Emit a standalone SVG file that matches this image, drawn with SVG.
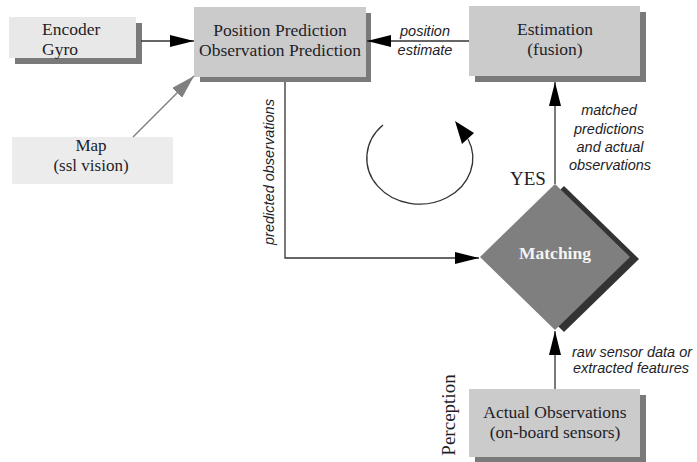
<svg xmlns="http://www.w3.org/2000/svg" width="697" height="462" viewBox="0 0 697 462">
<style>
.serif{font-family:"Liberation Serif","Times New Roman",serif;font-size:17.5px;fill:#1e1e28}
.ital{font-family:"Liberation Sans",Arial,sans-serif;font-size:14.5px;font-style:italic;fill:#1e1e28}
.shadow{fill:#7a7a7a}
.box{fill:#cbcbcb}
.lbox{fill:#e8e8e8}
.conn{stroke:#333;stroke-width:1.3;fill:none}
</style>
<defs>
<marker id="ah" markerWidth="24" markerHeight="12" refX="24" refY="6" orient="auto" markerUnits="userSpaceOnUse">
<path d="M0,0 L24,6 L0,12 Z" fill="#000"/>
</marker>
<marker id="ahg" markerWidth="24" markerHeight="14" refX="24" refY="7" orient="auto" markerUnits="userSpaceOnUse">
<path d="M0,0 L24,7 L0,14 Z" fill="#808080"/>
</marker>
</defs>
<rect width="697" height="462" fill="#fff"/>

<g id="encoder">
<rect class="shadow" x="15" y="23" width="127" height="41"/>
<rect class="lbox" x="9" y="17" width="127" height="41"/>
<text class="serif" x="42" y="35">Encoder</text>
<text class="serif" x="42" y="55">Gyro</text>
</g>

<g id="map">
<rect fill="#ececec" x="12" y="137" width="161" height="47"/>
<text class="serif" x="91" y="151" text-anchor="middle" style="font-size:17px">Map</text>
<text class="serif" x="91" y="171" text-anchor="middle" style="font-size:17px">(ssl vision)</text>
</g>

<g id="prediction">
<rect class="shadow" x="200" y="13" width="171" height="69"/>
<rect class="box" x="194" y="7" width="172" height="70"/>
<text class="serif" x="280" y="36" text-anchor="middle">Position Prediction</text>
<text class="serif" x="280" y="56" text-anchor="middle">Observation Prediction</text>
</g>

<g id="estimation">
<rect class="shadow" x="475" y="12" width="171" height="70"/>
<rect class="box" x="469" y="6" width="171" height="70"/>
<text class="serif" x="555" y="35" text-anchor="middle">Estimation</text>
<text class="serif" x="555" y="55" text-anchor="middle">(fusion)</text>
</g>

<g id="matching">
<polygon fill="#333" points="564,186 639,259 564,332 489,259"/>
<polygon fill="#7f7f7f" points="555,184 630,257 555,330 480,257"/>
<text x="555" y="259" text-anchor="middle" style="font-family:'Liberation Serif','Times New Roman',serif;font-size:17.5px;font-weight:bold;fill:#f4f4f4">Matching</text>
</g>

<g id="actual">
<rect class="shadow" x="475" y="395" width="171" height="68"/>
<rect class="box" x="469" y="389" width="171" height="68"/>
<text class="serif" x="555" y="418" text-anchor="middle">Actual Observations</text>
<text class="serif" x="555" y="438" text-anchor="middle">(on-board sensors)</text>
</g>

<g id="connectors">
<line class="conn" x1="141" y1="41" x2="194" y2="41" marker-end="url(#ah)"/>
<line x1="133" y1="137" x2="194" y2="76" stroke="#808080" stroke-width="1.5" marker-end="url(#ahg)"/>
<line class="conn" x1="469" y1="41" x2="367" y2="41" marker-end="url(#ah)"/>
<polyline class="conn" points="285,82 285,258 479,258" marker-end="url(#ah)"/>
<line class="conn" x1="555" y1="184" x2="555" y2="82" marker-end="url(#ah)"/>
<line class="conn" x1="555" y1="389" x2="555" y2="331" marker-end="url(#ah)"/>
<path class="conn" d="M383,125 A53,46 0 1 0 468,139"/>
<polygon fill="#000" points="455,121 474,133 462,144"/>
</g>

<g id="labels">
<text class="ital" x="425" y="36" text-anchor="middle">position</text>
<text class="ital" x="425" y="55" text-anchor="middle">estimate</text>
<text class="ital" transform="translate(273.5,172) rotate(-90)" text-anchor="middle">predicted observations</text>
<text class="ital" x="609" y="115" text-anchor="middle">matched</text>
<text class="ital" x="609" y="133.5" text-anchor="middle">predictions</text>
<text class="ital" x="610" y="152" text-anchor="middle">and actual</text>
<text class="ital" x="610" y="170" text-anchor="middle">observations</text>
<text class="serif" x="510" y="185" style="font-size:19px">YES</text>
<text class="ital" x="572" y="357">raw sensor data or</text>
<text class="ital" x="573" y="373">extracted features</text>
<text class="serif" transform="translate(455,415) rotate(-90)" text-anchor="middle" style="font-size:19px">Perception</text>
</g>
</svg>
